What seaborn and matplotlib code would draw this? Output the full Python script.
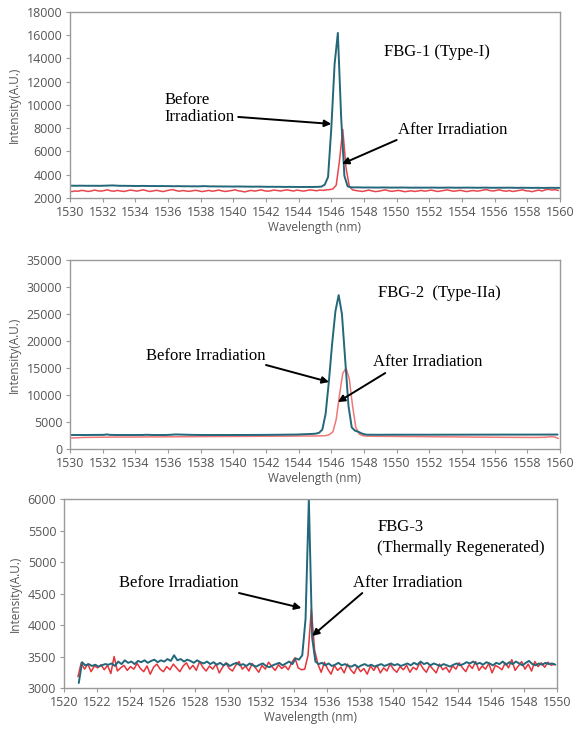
import numpy as np
import pandas as pd
import matplotlib
matplotlib.use("Agg")
import matplotlib.pyplot as plt
import seaborn as sns

sns.set_theme(style="white")
plt.rcParams["font.family"] = ["Open Sans", "DejaVu Sans"]

STEP = 0.2  # nm between spectrometer samples

# ---------------- FBG-1 (Type-I) ----------------
fbg1_before_start = 1530.0
fbg1_before = [
    3060, 3055, 3050, 3058, 3052, 3048, 3050, 3055, 3050, 3045,
    3050, 3060, 3070, 3080, 3065, 3050, 3045, 3040, 3042, 3038,
    3035, 3030, 3040, 3035, 3028, 3025, 3030, 3020, 3025, 3018,
    3020, 3015, 3010, 3018, 3012, 3005, 3010, 3000, 3005, 2998,
    3010, 3020, 3005, 2995, 3000, 2990, 2995, 2985, 2990, 2985,
    2980, 2990, 2985, 2978, 2982, 2975, 2970, 2978, 2972, 2965,
    2968, 2960, 2965, 2958, 2962, 2955, 2950, 2958, 2952, 2948,
    2950, 2945, 2948, 2942, 2945, 2950, 2960, 2980, 3150, 3800,
    8000, 13500, 16200, 9000, 3900, 3000, 2920, 2910, 2915, 2905,
    2900, 2905, 2898, 2900, 2895, 2900, 2905, 2898, 2892, 2895,
    2890, 2895, 2900, 2892, 2888, 2890, 2885, 2892, 2888, 2885,
    2890, 2895, 2888, 2880, 2885, 2890, 2895, 2888, 2882, 2885,
    2880, 2885, 2890, 2885, 2878, 2880, 2885, 2890, 2882, 2878,
    2880, 2875, 2882, 2878, 2880, 2885, 2875, 2870, 2878, 2872,
    2875, 2870, 2868, 2875, 2870, 2865, 2870, 2875, 2868, 2870,
    2868,
]
fbg1_after_start = 1530.1
fbg1_after = [
    2550, 2600, 2580, 2650, 2620, 2560, 2600, 2680, 2620, 2590,
    2640, 2700, 2610, 2580, 2650, 2600, 2560, 2620, 2680, 2640,
    2590, 2650, 2700, 2620, 2560, 2610, 2660, 2600, 2550, 2620,
    2680, 2720, 2630, 2580, 2640, 2600, 2570, 2620, 2660, 2600,
    2550, 2600, 2650, 2580, 2620, 2680, 2610, 2560, 2600, 2640,
    2700, 2620, 2580, 2520, 2600, 2650, 2590, 2640, 2700, 2620,
    2580, 2620, 2680, 2640, 2600, 2660, 2700, 2640, 2600, 2680,
    2630, 2590, 2640, 2700, 2660, 2620, 2680, 2650, 2700, 2720,
    2780, 3100, 5200, 7900, 4600, 3000, 2700, 2640, 2600, 2560,
    2620, 2680, 2600, 2550, 2580, 2640, 2700, 2620, 2570, 2610,
    2650, 2600, 2540, 2580, 2620, 2560, 2600, 2650, 2590, 2620,
    2680, 2620, 2560, 2600, 2650, 2700, 2630, 2580, 2620, 2660,
    2600, 2550, 2610, 2640, 2590, 2620, 2680, 2720, 2640, 2600,
    2650, 2700, 2620, 2580, 2640, 2560, 2600, 2650, 2700, 2620,
    2600, 2540, 2620, 2680, 2600, 2700, 2750, 2680, 2720, 2640,
]

# ---------------- FBG-2 (Type-IIa) ----------------
fbg2_before_start = 1530.05
fbg2_before = [
    2600, 2610, 2600, 2590, 2600, 2605, 2600, 2595, 2600, 2610,
    2620, 2700, 2620, 2600, 2595, 2600, 2605, 2600, 2598, 2600,
    2600, 2605, 2600, 2640, 2610, 2600, 2598, 2600, 2605, 2600,
    2620, 2650, 2700, 2680, 2650, 2640, 2630, 2620, 2610, 2600,
    2600, 2595, 2600, 2605, 2600, 2598, 2600, 2595, 2600, 2605,
    2600, 2610, 2600, 2598, 2605, 2600, 2600, 2610, 2620, 2615,
    2620, 2625, 2620, 2630, 2625, 2630, 2640, 2650, 2660, 2680,
    2700, 2720, 2750, 2780, 2800, 2850, 3000, 3600, 6500, 12500,
    19500, 25500, 28500, 25000, 16500, 8000, 4000, 3400, 3200, 2900,
    2700, 2650, 2640, 2650, 2640, 2645, 2650, 2640, 2645, 2650,
    2650, 2640, 2650, 2645, 2640, 2650, 2655, 2650, 2645, 2650,
    2650, 2655, 2650, 2660, 2650, 2655, 2660, 2650, 2655, 2660,
    2660, 2655, 2660, 2650, 2660, 2665, 2660, 2670, 2660, 2665,
    2670, 2660, 2665, 2670, 2660, 2670, 2675, 2670, 2665, 2670,
    2670, 2675, 2680, 2670, 2675, 2680, 2675, 2680, 2685, 2680,
]
fbg2_after_start = 1530.1
fbg2_after = [
    2050, 2080, 2100, 2120, 2150, 2150, 2160, 2170, 2180, 2180,
    2190, 2200, 2200, 2210, 2200, 2210, 2220, 2220, 2210, 2220,
    2230, 2220, 2230, 2240, 2230, 2240, 2250, 2240, 2250, 2260,
    2260, 2270, 2260, 2270, 2280, 2270, 2280, 2290, 2280, 2290,
    2300, 2290, 2300, 2310, 2300, 2310, 2320, 2310, 2320, 2330,
    2320, 2330, 2340, 2330, 2340, 2350, 2340, 2350, 2360, 2350,
    2360, 2370, 2360, 2370, 2380, 2370, 2380, 2390, 2400, 2400,
    2400, 2410, 2420, 2400, 2420, 2430, 2440, 2450, 2500, 2700,
    3200, 5500, 10000, 14000, 15000, 13000, 8000, 4000, 2800, 2500,
    2400, 2380, 2370, 2360, 2360, 2350, 2350, 2340, 2340, 2330,
    2330, 2320, 2320, 2310, 2310, 2300, 2300, 2290, 2290, 2280,
    2280, 2270, 2270, 2260, 2260, 2250, 2250, 2240, 2240, 2230,
    2230, 2220, 2220, 2210, 2210, 2200, 2200, 2190, 2190, 2180,
    2180, 2180, 2170, 2170, 2160, 2160, 2160, 2150, 2150, 2150,
    2140, 2140, 2140, 2150, 2160, 2180, 2250, 2300, 2200, 1950,
]

# ---------------- FBG-3 (Thermally Regenerated) ----------------
fbg3_before_start = 1520.9
fbg3_before = [
    3080, 3410, 3360, 3380, 3350, 3370, 3340, 3360, 3380, 3370,
    3390, 3350, 3420, 3380, 3440, 3400, 3420, 3380, 3430, 3410,
    3440, 3400, 3430, 3450, 3410, 3440, 3420, 3460, 3430, 3520,
    3440, 3460, 3420, 3450, 3430, 3400, 3440, 3410, 3390, 3420,
    3380, 3410, 3370, 3400, 3360, 3390, 3350, 3380, 3400, 3360,
    3380, 3350, 3390, 3360, 3340, 3370, 3390, 3350, 3330, 3360,
    3380, 3400, 3360, 3390, 3420, 3380, 3470, 3450, 3520, 4100,
    6000, 3800, 3420, 3380, 3400, 3360, 3390, 3350, 3370, 3400,
    3360, 3380, 3350, 3340, 3370, 3330, 3360, 3380, 3350, 3370,
    3340, 3360, 3380, 3350, 3370, 3390, 3360, 3380, 3350, 3370,
    3390, 3360, 3400, 3370, 3420, 3380, 3400, 3360, 3390, 3370,
    3350, 3380, 3360, 3340, 3370, 3390, 3360, 3380, 3410, 3390,
    3420, 3380, 3400, 3370, 3410, 3390, 3360, 3400, 3380, 3420,
    3370, 3410, 3380, 3420, 3390, 3360, 3400, 3430, 3380, 3360,
    3390, 3370, 3400, 3380, 3390, 3370,
]
fbg3_after_start = 1520.85
fbg3_after = [
    3180, 3400, 3300, 3380, 3260, 3350, 3320, 3370, 3290, 3360,
    3230, 3500, 3270, 3320, 3360, 3280, 3340, 3300, 3390, 3310,
    3260, 3350, 3220, 3330, 3380, 3300, 3260, 3340, 3290, 3380,
    3320, 3260, 3350, 3400, 3300, 3360, 3280, 3420, 3330, 3270,
    3350, 3300, 3380, 3240, 3330, 3400, 3310, 3270, 3360, 3420,
    3300, 3350, 3270, 3390, 3320, 3250, 3360, 3300, 3410, 3340,
    3280, 3370, 3310, 3350, 3290, 3400, 3480, 3320, 3290, 3300,
    3520, 4250, 3600, 3380, 3250, 3410, 3300, 3220, 3360, 3280,
    3330, 3240, 3380, 3290, 3230, 3340, 3260, 3310, 3220, 3350,
    3280, 3360, 3240, 3320, 3270, 3380, 3300, 3250, 3340, 3290,
    3360, 3250, 3330, 3290, 3400, 3310, 3250, 3360, 3300, 3240,
    3380, 3290, 3330, 3250, 3350, 3300, 3400, 3320, 3260, 3370,
    3310, 3420, 3280, 3350, 3300, 3390, 3240, 3360, 3330, 3290,
    3400, 3320, 3450, 3280, 3350, 3420, 3300, 3380, 3270, 3420,
    3340, 3400, 3330, 3410, 3360, 3380,
]


def spectrum(start, values, label):
    wl = np.round(start + STEP * np.arange(len(values)), 3)
    return pd.DataFrame({"Wavelength": wl, "Intensity": values, "state": label})


BLUE = "#23677a"
TICK_GREY = "#555555"
FRAME_GREY = "#9a9a9a"
SERIF = ["Liberation Serif", "DejaVu Serif"]
NOTE_SIZE = 12

panels = [
    dict(rect=[0.1215, 0.7288, 0.8507, 0.2548],
         before=spectrum(fbg1_before_start, fbg1_before, "Before"),
         after=spectrum(fbg1_after_start, fbg1_after, "After"),
         red="#e8474d", xlim=(1530, 1560), ylim=(2000, 18000),
         yticks=np.arange(2000, 18001, 2000),
         title=[("FBG-1 (Type-I)", 1549.2, 14560)],
         before_text=("Before\nIrradiation", 1535.8, 9700),
         before_arrow=((1540.3, 8970), (1546.0, 8370)),
         after_text=("After Irradiation", 1550.1, 7850),
         after_arrow=((1550.0, 6990), (1546.65, 4930))),
    dict(rect=[0.1215, 0.3849, 0.8507, 0.2589],
         before=spectrum(fbg2_before_start, fbg2_before, "Before"),
         after=spectrum(fbg2_after_start, fbg2_after, "After"),
         red="#f07878", xlim=(1530, 1560), ylim=(0, 35000),
         yticks=np.arange(0, 35001, 5000),
         title=[("FBG-2  (Type-IIa)", 1548.85, 28890)],
         before_text=("Before Irradiation", 1534.65, 17220),
         before_arrow=((1542.0, 15560), (1545.86, 12410)),
         after_text=("After Irradiation", 1548.55, 16110),
         after_arrow=((1549.3, 14070), (1546.4, 8700))),
    dict(rect=[0.1111, 0.0575, 0.8559, 0.2589],
         before=spectrum(fbg3_before_start, fbg3_before, "Before"),
         after=spectrum(fbg3_after_start, fbg3_after, "After"),
         red="#e6343b", xlim=(1520, 1550), ylim=(3000, 6000),
         yticks=np.arange(3000, 6001, 500),
         title=[("FBG-3", 1539.05, 5556), ("(Thermally Regenerated)", 1539.05, 5222)],
         before_text=("Before Irradiation", 1523.35, 4667),
         before_arrow=((1530.65, 4508), (1534.45, 4270)),
         after_text=("After Irradiation", 1537.6, 4667),
         after_arrow=((1538.15, 4508), (1535.1, 3826))),
]

fig = plt.figure(figsize=(5.76, 7.30), dpi=100)

for p in panels:
    ax = fig.add_axes(p["rect"])
    sns.lineplot(data=p["after"], x="Wavelength", y="Intensity", ax=ax,
                 color=p["red"], lw=1.1, legend=False)
    sns.lineplot(data=p["before"], x="Wavelength", y="Intensity", ax=ax,
                 color=BLUE, lw=1.4, legend=False)
    ax.set_xlim(*p["xlim"])
    ax.set_ylim(*p["ylim"])
    ax.set_xticks(np.arange(p["xlim"][0], p["xlim"][1] + 1, 2))
    ax.set_yticks(p["yticks"])
    ax.set_xlabel("Wavelength (nm)", fontsize=8.5, color=TICK_GREY, labelpad=2)
    ax.set_ylabel("Intensity(A.U.)", fontsize=8.5, color=TICK_GREY, labelpad=4)
    ax.tick_params(axis="both", which="both", direction="out", length=3,
                   width=0.8, color=FRAME_GREY, labelsize=9,
                   labelcolor=TICK_GREY, pad=2.5)
    ax.tick_params(bottom=True, left=True)
    for s in ax.spines.values():
        s.set_color(FRAME_GREY)
        s.set_linewidth(1.0)

    for txt, x, y in p["title"]:
        ax.text(x, y, txt, family=SERIF, fontsize=NOTE_SIZE, color="black",
                ha="left", va="center")
    t, x, y = p["before_text"]
    ax.text(x, y, t, family=SERIF, fontsize=NOTE_SIZE, color="black",
            ha="left", va="center", linespacing=1.1)
    t, x, y = p["after_text"]
    ax.text(x, y, t, family=SERIF, fontsize=NOTE_SIZE, color="black",
            ha="left", va="center")
    for tail, head in (p["before_arrow"], p["after_arrow"]):
        ax.annotate("", xy=head, xytext=tail,
                    arrowprops=dict(arrowstyle="-|>", color="black", lw=1.4,
                                    mutation_scale=10, shrinkA=0, shrinkB=0))

fig.savefig("out.png", dpi=100)
